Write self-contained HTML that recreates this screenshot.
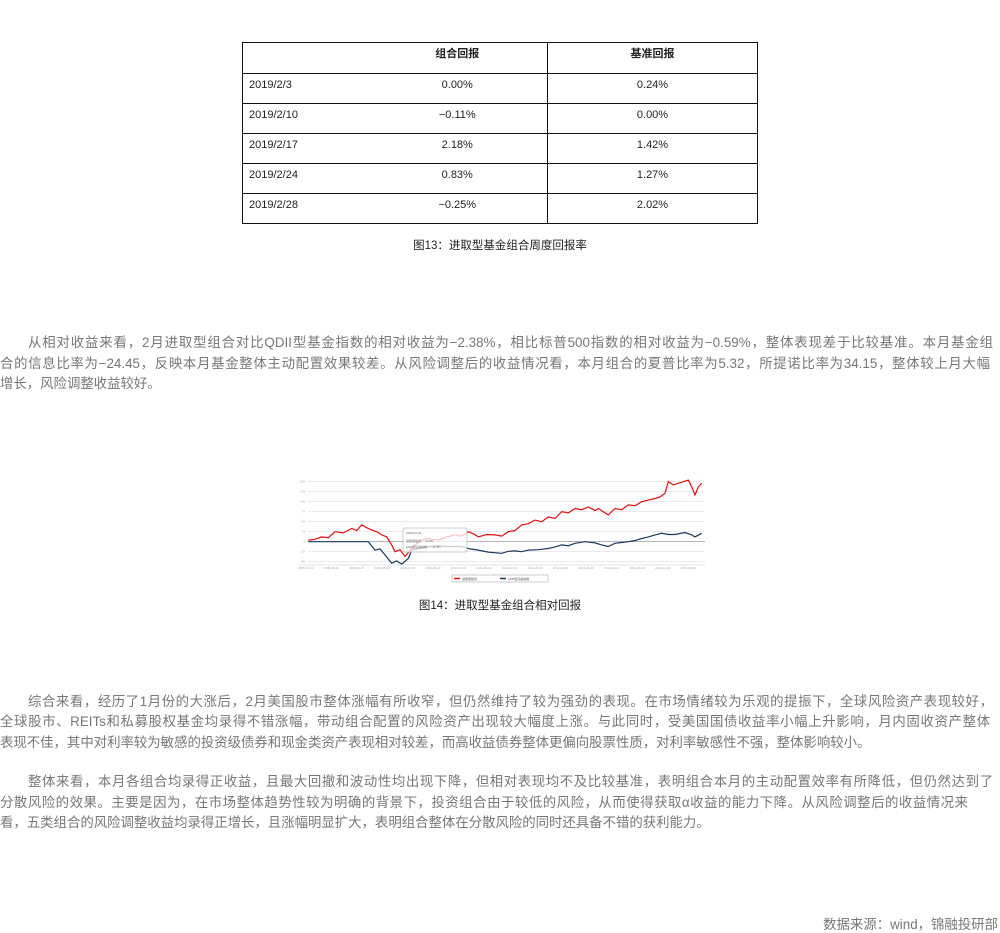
<!DOCTYPE html>
<html><head><meta charset="utf-8">
<style>
body{margin:0;width:1000px;height:933px;background:#fff;position:relative;overflow:hidden;font-family:"Liberation Sans","Noto Sans CJK SC",sans-serif;}
.abs{position:absolute;}
table{position:absolute;left:242px;top:42px;width:515px;border-collapse:collapse;table-layout:fixed;font-size:11px;color:#222;}
td{border:1px solid #111;height:30px;box-sizing:border-box;vertical-align:top;padding:5px 6px 0 6px;line-height:13px;overflow:hidden;}
.h td{height:31px;font-weight:bold;}
.c{text-align:center;}
.cap{position:absolute;width:1000px;text-align:center;font-size:11.5px;color:#222;}
.ln{position:absolute;left:0;width:996px;font-size:13.4px;color:#777;white-space:nowrap;text-align:justify;text-align-last:justify;line-height:20px;}
.last{text-align-last:left;}
</style></head><body>
<table>
<colgroup><col style="width:125px"><col style="width:180px"><col style="width:210px"></colgroup>
<tr class="h"><td style="border-right:none"></td><td class="c" style="border-left:none">组合回报</td><td class="c">基准回报</td></tr>
<tr><td style="border-right:none">2019/2/3</td><td class="c" style="border-left:none">0.00%</td><td class="c">0.24%</td></tr>
<tr><td style="border-right:none">2019/2/10</td><td class="c" style="border-left:none">−0.11%</td><td class="c">0.00%</td></tr>
<tr><td style="border-right:none">2019/2/17</td><td class="c" style="border-left:none">2.18%</td><td class="c">1.42%</td></tr>
<tr><td style="border-right:none">2019/2/24</td><td class="c" style="border-left:none">0.83%</td><td class="c">1.27%</td></tr>
<tr><td style="border-right:none">2019/2/28</td><td class="c" style="border-left:none">−0.25%</td><td class="c">2.02%</td></tr>
</table>
<div class="cap" style="top:237px">图13：进取型基金组合周度回报率</div>

<div>
<div class="ln" style="top:333px;left:28px;width:965px">从相对收益来看，2月进取型组合对比QDII型基金指数的相对收益为−2.38%，相比标普500指数的相对收益为−0.59%，整体表现差于比较基准。本月基金组</div>
<div class="ln" style="top:354px;width:990px">合的信息比率为−24.45，反映本月基金整体主动配置效果较差。从风险调整后的收益情况看，本月组合的夏普比率为5.32，所提诺比率为34.15，整体较上月大幅</div>
<div class="ln last" style="top:374px">增长，风险调整收益较好。</div>
</div>

<svg class="abs" style="left:0;top:0" width="1000" height="933">
<g id="grid"></g><g id="lines"></g>
<rect x="403" y="528" width="64" height="24" fill="#fff" fill-opacity="0.75" stroke="#bbb" stroke-width="0.8" rx="2"/>
<text x="406" y="534" font-size="3" fill="#666">2008-02-29</text>
<text x="406" y="542" font-size="3" fill="#666">进取型组合 ... 22.8%</text>
<text x="406" y="548" font-size="3" fill="#666">QDII型基金指数 ... -11.8%</text>
<rect x="452" y="575" width="96" height="7" fill="#fff" stroke="#aaa" stroke-width="0.6"/>
<line x1="454" y1="578.5" x2="460" y2="578.5" stroke="#e00" stroke-width="1.5"/><text x="462" y="580" font-size="3" fill="#555">进取型组合</text>
<line x1="500" y1="578.5" x2="506" y2="578.5" stroke="#1a3a5c" stroke-width="1.5"/><text x="508" y="580" font-size="3" fill="#555">QDII型基金指数</text>
</svg>
<div class="cap" style="top:597px">图14：进取型基金组合相对回报</div>

<div>
<div class="ln" style="top:692px;left:28px;width:965px">综合来看，经历了1月份的大涨后，2月美国股市整体涨幅有所收窄，但仍然维持了较为强劲的表现。在市场情绪较为乐观的提振下，全球风险资产表现较好，</div>
<div class="ln" style="top:712px;width:990px">全球股市、REITs和私募股权基金均录得不错涨幅，带动组合配置的风险资产出现较大幅度上涨。与此同时，受美国国债收益率小幅上升影响，月内固收资产整体</div>
<div class="ln last" style="top:733px">表现不佳，其中对利率较为敏感的投资级债券和现金类资产表现相对较差，而高收益债券整体更偏向股票性质，对利率敏感性不强，整体影响较小。</div>
</div>
<div>
<div class="ln" style="top:772px;left:28px;width:965px">整体来看，本月各组合均录得正收益，且最大回撤和波动性均出现下降，但相对表现均不及比较基准，表明组合本月的主动配置效率有所降低，但仍然达到了</div>
<div class="ln" style="top:793px;width:968px">分散风险的效果。主要是因为，在市场整体趋势性较为明确的背景下，投资组合由于较低的风险，从而使得获取α收益的能力下降。从风险调整后的收益情况来</div>
<div class="ln last" style="top:813px">看，五类组合的风险调整收益均录得正增长，且涨幅明显扩大，表明组合整体在分散风险的同时还具备不错的获利能力。</div>
</div>
<div class="abs" style="top:913px;right:2px;font-size:13.4px;color:#777">数据来源：wind，锦融投研部</div>

<script>
const redT=[40,60,80,100,120,145,170,185,200,215,230,245,260,275,290,300,315,330,350,365,380,400,430,455,480,500,520,535,550,575,600,620,640,660,680,700,720,740,760,780,800,820,840,860,880,900,910,925,940,960,980,1000,1020,1040,1060,1080,1095,1110,1120,1135,1150,1165,1180,1190,1200,1210,1220];
const redV=[4,6,12,10,25,22,33,28,42,35,29,25,17,12,-8,-25,-20,-37,-17,-5,4,8,4,12,17,14,25,20,12,18,17,14,25,28,42,45,54,50,62,58,75,72,83,80,87,78,83,75,67,83,80,92,90,100,104,108,112,121,150,142,146,150,154,137,117,137,146];
const blueT=[40,220,240,255,270,290,305,320,340,350,380,420,460,500,525,550,580,620,640,660,680,700,730,760,780,800,820,840,870,900,920,940,960,980,1000,1020,1040,1060,1080,1100,1120,1140,1170,1190,1200,1220];
const blueV=[0,0,-21,-18,-33,-54,-48,-56,-42,-21,-15,-10,-12,-12,-18,-21,-26,-29,-24,-23,-25,-21,-20,-17,-13,-8,-10,-4,0,-3,-8,-12,-4,-2,0,3,8,12,17,21,18,18,23,17,12,21];
const yTicks=[150,125,100,75,50,25,0,-25,-50];
const xLabels=['2008-01-01','2008-06-30','2008-12-31','2009-06-30','2009-12-31','2010-06-30','2010-12-31','2011-06-30','2011-12-31','2012-06-30','2012-12-31','2013-06-30','2013-12-31','2014-06-30','2014-12-31','2015-06-30'];
const NS='http://www.w3.org/2000/svg';
const xs=t=>295+t/3;
const ys=v=>541.7-v*0.4;
const grid=document.getElementById('grid'),lines=document.getElementById('lines');
yTicks.forEach(v=>{
 const l=document.createElementNS(NS,'line');
 
 
 l.setAttribute('x1',308);l.setAttribute('x2',705);l.setAttribute('y1',ys(v));l.setAttribute('y2',ys(v));
 l.setAttribute('stroke',v===0?'#888':'#ddd');l.setAttribute('stroke-width',0.6);grid.appendChild(l);
 const t=document.createElementNS(NS,'text');
 
 
 t.setAttribute('x',305);t.setAttribute('y',ys(v)+1);t.setAttribute('font-size',3);t.setAttribute('fill','#aaa');t.setAttribute('text-anchor','end');
 t.textContent=v;grid.appendChild(t);
});
const ax=document.createElementNS(NS,'line');


ax.setAttribute('x1',298);ax.setAttribute('x2',705);ax.setAttribute('y1',565);ax.setAttribute('y2',565);ax.setAttribute('stroke','#ccc');ax.setAttribute('stroke-width',0.6);grid.appendChild(ax);
xLabels.forEach((s,i)=>{
 const t=document.createElementNS(NS,'text');
 
 
 t.setAttribute('x',298+i*25.5);t.setAttribute('y',569);t.setAttribute('font-size',3);t.setAttribute('fill','#aaa');
 t.textContent=s;grid.appendChild(t);
});
function path(T,V,color,name){
 const p=document.createElementNS(NS,'path');
 
 
 p.setAttribute('d',T.map((t,i)=>(i?'L':'M')+xs(t).toFixed(1)+','+ys(V[i]).toFixed(1)).join(''));
 p.setAttribute('fill','none');p.setAttribute('stroke',color);p.setAttribute('stroke-width',1.2);
 lines.appendChild(p);
}
path(blueT,blueV,'#1a3a5c','benchmark-line');
path(redT,redV,'#e01010','portfolio-line');
</script>
</body></html>
